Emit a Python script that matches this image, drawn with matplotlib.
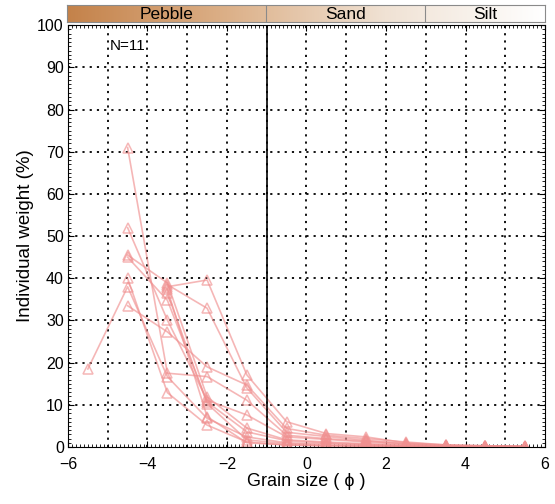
import matplotlib.pyplot as plt
import numpy as np
from matplotlib.colors import LinearSegmentedColormap
from matplotlib.ticker import MultipleLocator

plt.rcParams["font.family"] = ["Liberation Sans", "DejaVu Sans"]

# grain size classes (phi), one value per class midpoint
grain_phi = [-5.5, -4.5, -3.5, -2.5, -1.5, -0.5, 0.5, 1.5, 2.5, 3.5, 4.5, 5.5]
nan = np.nan

# individual weight (%) of the 11 samples
s01 = [nan, 71.0, 17.5, 16.7, 11.1, 2.8, 2.0, 1.4, 0.8, 0.3, 0.2, 0.1]
s02 = [nan, 52.0, 30.1, 11.1, 7.6, 2.4, 1.8, 1.2, 0.6, 0.3, 0.2, 0.1]
s03 = [nan, 45.5, 38.9, 11.9, 4.5, 1.7, 1.2, 0.8, 0.4, 0.2, 0.1, 0.1]
s04 = [nan, 45.0, 34.8, 10.7, 3.6, 1.5, 1.0, 0.6, 0.3, 0.2, 0.1, 0.1]
s05 = [18.5, 38.0, 16.7, 6.8, 2.4, 1.0, 0.8, 0.5, 0.3, 0.1, 0.1, 0.0]
s06 = [nan, 40.0, 12.9, 5.2, 1.2, 0.5, 0.3, 0.2, 0.1, 0.0, 0.0, 0.0]
s07 = [nan, 33.5, 27.3, 19.0, 14.7, 4.4, 2.8, 2.0, 1.2, 0.5, 0.3, 0.2]
s08 = [nan, nan, 38.0, 39.6, 17.1, 6.0, 3.2, 2.4, 1.0, 0.5, 0.3, 0.2]
s09 = [nan, nan, 38.5, 32.9, 14.0, 3.5, 2.5, 1.6, 0.8, 0.4, 0.2, 0.1]
s10 = [nan, nan, 36.5, 10.3, 1.7, 0.8, 0.5, 0.3, 0.2, 0.1, 0.0, 0.0]
s11 = [nan, nan, 37.4, 7.2, 1.0, 0.5, 0.3, 0.2, 0.1, 0.0, 0.0, 0.0]
samples = [s01, s02, s03, s04, s05, s06, s07, s08, s09, s10, s11]

# grain classes shown in the top bar
class_names = ["Pebble", "Sand", "Silt"]
class_edges = [-6, -1, 3, 6]

fig = plt.figure(figsize=(5.55, 5.04), dpi=100)
ax = fig.add_axes([0.1225, 0.113, 0.8595, 0.837])

for s in samples:
    ax.plot(grain_phi, s, color="#f09090", alpha=0.65, linewidth=1.2,
            marker="^", markersize=7, markerfacecolor="none",
            markeredgecolor="#f09090", markeredgewidth=1.1)

# dotted grid
for gx in range(-5, 6):
    ax.axvline(gx, color="black", linestyle=(0, (1.2, 2.8)), linewidth=1.3, zorder=0)
for gy in range(10, 100, 10):
    ax.axhline(gy, color="black", linestyle=(0, (1.2, 2.8)), linewidth=1.3, zorder=0)
ax.axvline(-1, color="black", linewidth=1.2)

ax.set_xlim(-6, 6)
ax.set_ylim(0, 100)
ax.xaxis.set_major_locator(MultipleLocator(2))
ax.xaxis.set_minor_locator(MultipleLocator(0.1))
ax.yaxis.set_major_locator(MultipleLocator(10))
ax.yaxis.set_minor_locator(MultipleLocator(1))
ax.tick_params(which="both", direction="in", top=True, right=True, labelsize=11.5)
ax.tick_params(which="major", length=4)
ax.tick_params(axis="x", which="major", pad=7)
ax.tick_params(axis="y", which="major", pad=3)
ax.tick_params(which="minor", length=2.5, width=0.6)
ax.set_xlabel("Grain size ( \u03d5 )", fontsize=13, labelpad=1)
ax.set_ylabel("Individual weight (%)", fontsize=13.5, labelpad=2)
ax.text(-4.95, 95, "N=11", fontsize=11, va="center", ha="left")

# gradient class bar
bar = fig.add_axes([0.1207, 0.956, 0.861, 0.034])
cmap = LinearSegmentedColormap.from_list("grain", ["#c4824a", "#dcb088", "#f0e2d4", "#ffffff"])
bar.imshow(np.linspace(0, 1, 256).reshape(1, -1), aspect="auto", cmap=cmap,
           extent=[-6, 6, 0, 1])
for e in class_edges[1:-1]:
    bar.axvline(e, color="#8a8a8a", linewidth=0.8)
for name, lo, hi in zip(class_names, class_edges[:-1], class_edges[1:]):
    bar.text((lo + hi) / 2, 0.45, name, ha="center", va="center", fontsize=12.5)
bar.set_xlim(-6, 6)
bar.set_ylim(0, 1)
bar.set_xticks([])
bar.set_yticks([])
for sp in bar.spines.values():
    sp.set_color("#8a8a8a")
    sp.set_linewidth(0.8)

fig.savefig("out.png", dpi=100)
